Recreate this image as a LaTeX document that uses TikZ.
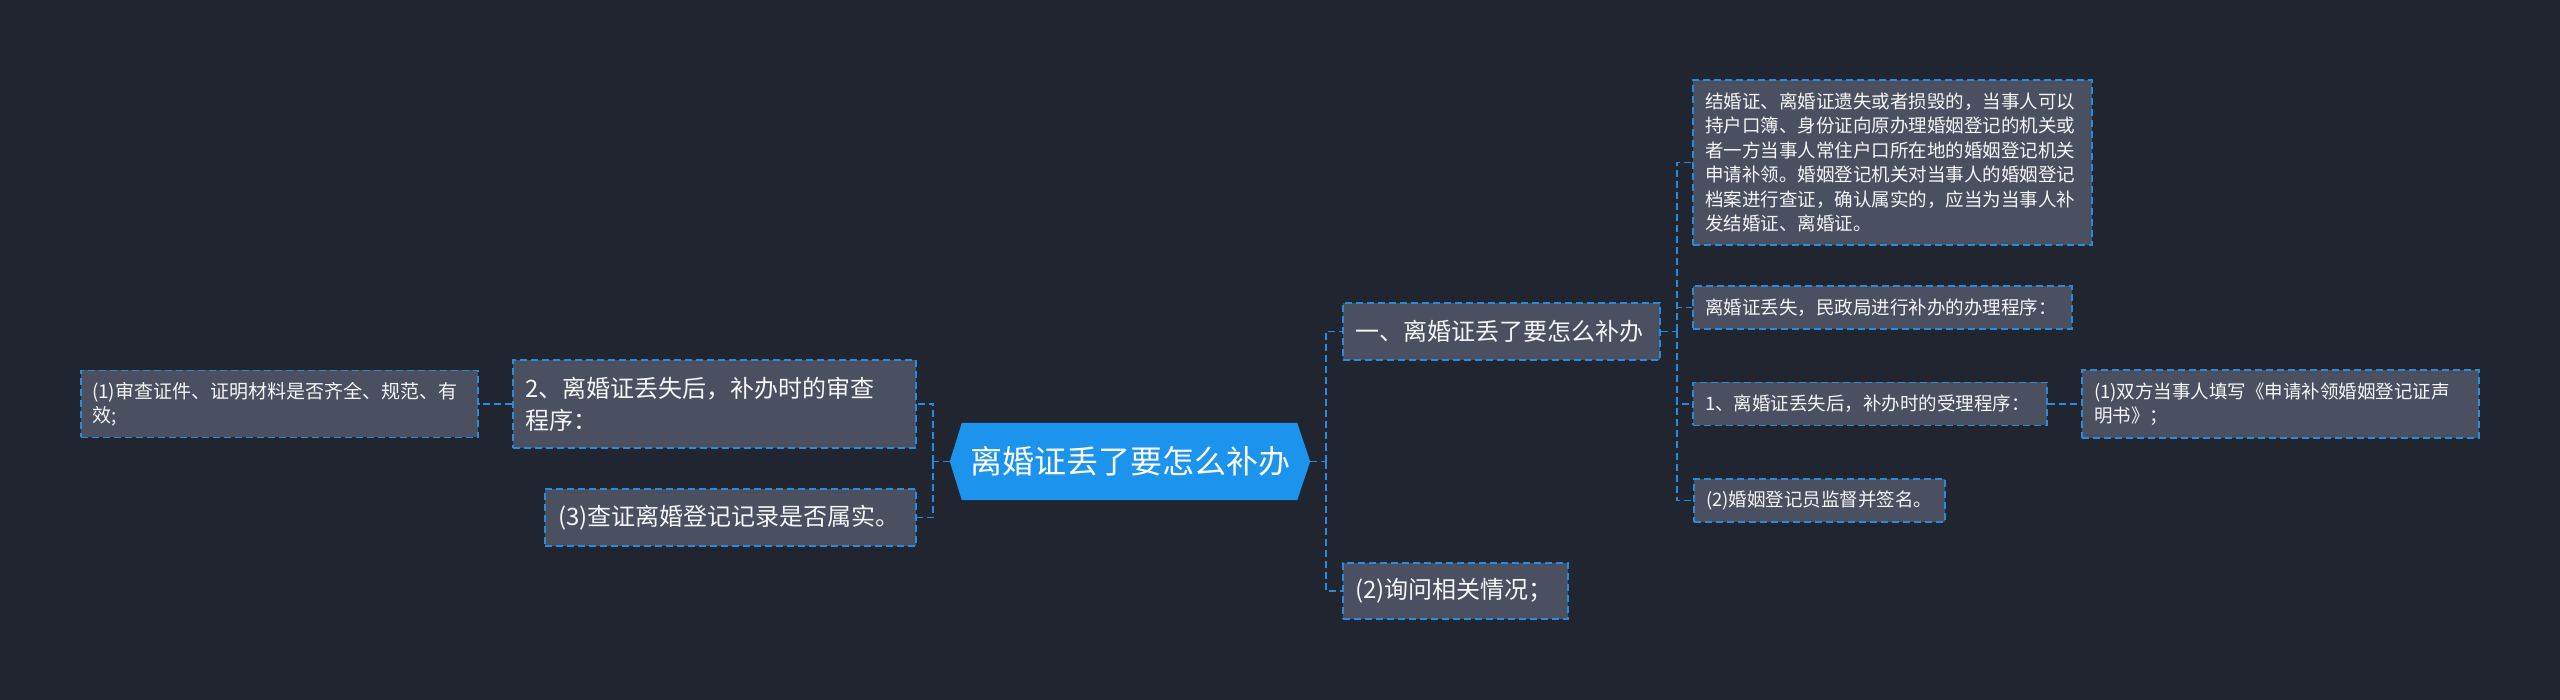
\documentclass[tikz,border=0pt]{standalone}
\usepackage{fontspec}
\setmainfont{Noto Sans CJK SC}
\usetikzlibrary{backgrounds}
\definecolor{bgc}{RGB}{33,37,48}
\definecolor{boxc}{RGB}{74,80,96}
\definecolor{cblue}{RGB}{38,140,222}
\definecolor{cfill}{RGB}{28,148,238}
\definecolor{txtc}{RGB}{245,245,245}
\tikzset{
  leaf/.style={draw=cblue, line width=1.6pt, dash pattern=on 7pt off 4pt, fill=boxc,
    text=txtc, inner xsep=12pt, inner ysep=0pt, align=left, anchor=center},
  small/.style={font=\fontsize{18.5}{24.5}\selectfont},
  mid/.style={font=\fontsize{24}{32}\selectfont},
  conn/.style={draw=cblue, line width=1.8pt, dash pattern=on 7pt off 4pt},
  hub/.style={text=white, inner sep=0pt, minimum width=360pt, minimum height=77pt,
    font=\fontsize{32}{38}\selectfont, anchor=center}
}
\begin{document}
\begin{tikzpicture}[x=1pt,y=-1pt]
\begin{pgfonlayer}{background}
\fill[bgc] (0,0) rectangle (2560,700);
\end{pgfonlayer}
\useasboundingbox (0,0) rectangle (2560,700);

% central hub
\node[hub] (C) at (1130,461.5) {离婚证丢了要怎么补办};
\begin{pgfonlayer}{background}
\fill[cfill] ([xshift=12pt]C.north west) -- ([xshift=-13pt]C.north east) -- (C.east)
  -- ([xshift=-13pt]C.south east) -- ([xshift=12pt]C.south west) -- (C.west) -- cycle;
\end{pgfonlayer}

% right level 1
\node[leaf, mid, text width=293pt, minimum height=57pt] (R1) at (1501.5,331.5) {一、离婚证丢了要怎么补办};
\node[leaf, mid, text width=201pt, minimum height=56pt] (R2) at (1455.5,591) {(2)询问相关情况；};

% right level 2
\node[leaf, small, text width=375pt, minimum height=165pt] (B1) at (1892.5,162.5) {结婚证、离婚证遗失或者损毁的，当事人可以\\持户口簿、身份证向原办理婚姻登记的机关或\\者一方当事人常住户口所在地的婚姻登记机关\\申请补领。婚姻登记机关对当事人的婚姻登记\\档案进行查证，确认属实的，应当为当事人补\\发结婚证、离婚证。};
\node[leaf, small, text width=355pt, minimum height=43pt] (B2) at (1882.5,307.5) {离婚证丢失，民政局进行补办的办理程序：};
\node[leaf, small, text width=330pt, minimum height=43pt] (B3) at (1870,404) {1、离婚证丢失后，补办时的受理程序：};
\node[leaf, small, text width=227pt, minimum height=43pt] (B4) at (1819.5,500.5) {(2)婚姻登记员监督并签名。};
\node[leaf, small, text width=373pt, minimum height=68pt] (B5) at (2280.5,404) {(1)双方当事人填写《申请补领婚姻登记证声\\明书》；};

% left side
\node[leaf, mid, text width=379pt, minimum height=88pt] (L1) at (714.5,404) {2、离婚证丢失后，补办时的审查\\程序：};
\node[leaf, mid, inner xsep=13pt, text width=345pt, minimum height=57pt] (L2) at (730.5,517.5) {(3)查证离婚登记记录是否属实。};
\node[leaf, small, inner xsep=11pt, text width=375pt, minimum height=67pt, font=\fontsize{19}{24}\selectfont] (L0) at (279.5,404) {(1)审查证件、证明材料是否齐全、规范、有\\效;};

% junction coordinates
\coordinate (rt) at (1326,461.5);
\coordinate (lt) at (933,461.5);
\coordinate (r1t) at (1677,331.5);

% connectors
\draw[conn] (C.east) -- (rt);
\draw[conn] (rt) |- (R1.west);
\draw[conn] (rt) |- (R2.west);
\draw[conn] (C.west) -- (lt);
\draw[conn] (lt) |- (L1.east);
\draw[conn] (lt) |- (L2.east);
\draw[conn] (L1.west) -- (L0.east);
\draw[conn] (R1.east) -- (r1t);
\draw[conn] (r1t) |- (B1.west);
\draw[conn] (r1t) |- (B2.west);
\draw[conn] (r1t) |- (B3.west);
\draw[conn] (r1t) |- (B4.west);
\draw[conn] (B3.east) -- (B5.west);
\end{tikzpicture}
\end{document}
